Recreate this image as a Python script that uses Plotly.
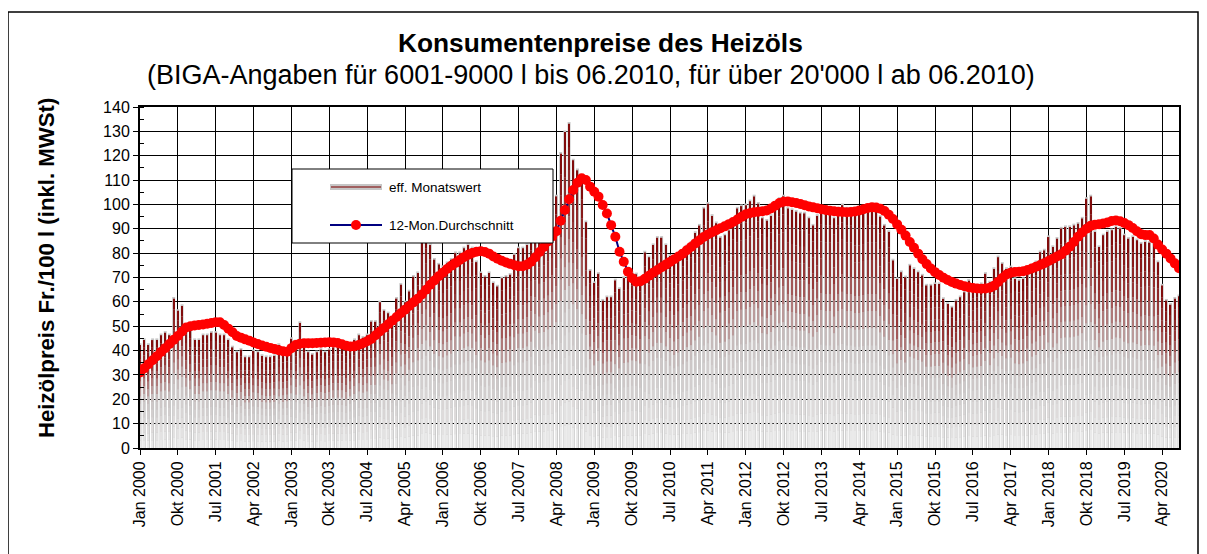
import plotly.graph_objects as go

# ---------------- data ----------------
start_year = 2000
month_names = ['Jan', 'Feb', 'Mär', 'Apr', 'Mai', 'Jun', 'Jul', 'Aug', 'Sep', 'Okt', 'Nov', 'Dez']

# effective monthly price, Fr./100 l, Jan 2000 .. Aug 2020
monthly_price = [
    43, 45, 43, 45, 45, 47, 48, 47, 62, 57, 59, 51,                      # 2000
    49, 45, 45, 47, 47, 48, 48, 47, 47, 45, 42, 40,                      # 2001
    41, 38, 38, 40.5, 40, 38.5, 38, 38, 38.5, 43, 38.5, 39,              # 2002
    45.5, 44.5, 52, 43, 40, 39, 40, 41, 40, 41, 42, 42,                  # 2003
    42, 41, 43, 45, 47, 46, 47, 52.5, 52.5, 60.5, 57, 56,                # 2004
    53, 62, 67.7, 60.5, 65, 71, 72.5, 86, 89, 84, 78, 76,                # 2005
    75, 76.6, 78, 80.7, 80.7, 82.7, 84, 82.7, 77, 72.5, 71, 72.5,        # 2006
    68.4, 67, 70.4, 71, 71.8, 80, 82.7, 82.7, 84, 88, 97, 95,            # 2007
    96, 98, 100, 104, 121.5, 130.4, 133.8, 118.8, 114.7, 110.5, 93.4, 73.5,  # 2008
    68.4, 72.2, 61.2, 62.6, 62.6, 69.5, 66, 70.5, 71, 72.5, 72, 70,      # 2009
    81, 79, 84, 87, 87, 84, 79.5, 77, 79, 81, 83.5, 85,                  # 2010
    89, 92, 99, 101, 96, 93, 87, 88, 90, 93, 99, 100,                   # 2011
    100.4, 102, 104, 101, 95, 94, 96, 99, 103, 104, 99, 98.4,            # 2012
    97.7, 97, 97, 95, 92, 96, 99.7, 99, 99, 95, 99, 100.4,               # 2013
    99, 99, 97.7, 97.7, 98.4, 99, 99, 99, 95.6, 92, 89.4, 77.7,          # 2014
    70.1, 72.9, 70.8, 75.6, 74.2, 72.9, 71.5, 67.4, 67.4, 68, 68, 61.9,  # 2015
    59.8, 58.4, 61.2, 62.6, 64.6, 69.4, 66.7, 67.4, 68, 72.2, 68.7, 74.2,  # 2016
    79, 76.3, 74.2, 74.9, 70.1, 69.4, 70.1, 72, 75.6, 77, 81.1, 81.8,    # 2017
    87.3, 83.2, 86.6, 90.8, 91.4, 91.4, 92.1, 92.8, 94.9, 103, 104, 89.4,  # 2018
    83.2, 88, 89.4, 90.1, 91.4, 90.8, 88, 86.6, 87.3, 86, 84.6, 85.3,    # 2019
    85, 84.6, 77, 67.4, 61.2, 59.5, 62, 63,                              # 2020
]

# 12-month running average as drawn in the reference
avg_12m = [
    31, 32.7, 34.4, 36, 37.7, 39.4, 41, 42.7, 44.4, 46, 47.8, 49.5,
    50, 50.3, 50.5, 50.7, 51, 51.3, 51.6, 51.6, 50.5, 49, 47.5, 46,
    45.3, 44.6, 44, 43.3, 42.7, 42.1, 41.6, 41.1, 40.6, 40.1, 39.7, 39.5,
    41, 42.3, 42.8, 43, 43, 43, 43.1, 43.2, 43.3, 43.4, 43.3, 43.1,
    42.6, 42, 41.7, 41.8, 42.3, 43, 43.8, 44.8, 46.3, 47.8, 49.3, 50.8,
    52.3, 53.8, 55.3, 56.8, 58.3, 59.8, 61.3, 63, 65, 67, 68.8, 70.5,
    72, 73.5, 74.8, 76, 77.2, 78.3, 79.3, 80.1, 80.6, 80.8, 80.5, 79.8,
    78.6, 77.7, 76.9, 76.2, 75.6, 75, 74.6, 74.6, 75.3, 76.5, 78.3, 80.5,
    82.5, 84.8, 86.8, 89, 93.3, 97.7, 102.1, 105.9, 108.9, 110.7, 110, 107.3,
    105.2, 103.2, 99.8, 96.3, 91.5, 86.7, 80.6, 76.5, 72.4, 69.7, 68.3, 68.5,
    69.5, 70.7, 72, 73.1, 74.2, 75.3, 76.4, 77.5, 78.6, 79.8, 81.2, 82.5,
    84, 85.3, 86.6, 87.7, 88.6, 89.4, 90.2, 91, 91.9, 92.8, 93.8, 94.9,
    96, 96.4, 96.8, 97, 97.2, 97.5, 98.3, 99.5, 100.6, 101.1, 101.2, 100.9,
    100.6, 100.2, 99.7, 99.2, 98.8, 98.4, 98, 97.7, 97.4, 97.2, 97, 96.9,
    96.8, 96.9, 97.1, 97.5, 98, 98.5, 98.8, 98.7, 98.2, 97.3, 95.8, 94,
    91.8, 89.6, 87.2, 84.6, 82.2, 79.8, 77.5, 75.5, 73.7, 72.2, 71, 69.9,
    69, 68.2, 67.5, 66.9, 66.4, 66, 65.7, 65.5, 65.4, 65.5, 65.8, 66.6,
    68.2, 69.8, 71.2, 72, 72.3, 72.4, 72.6, 73.1, 73.7, 74.4, 75.1, 75.9,
    76.8, 77.7, 78.6, 79.5, 81, 82.6, 84.6, 86.7, 88.5, 90, 91.2, 91.7,
    91.9, 92.2, 92.6, 93.2, 93.4, 93.1, 92.4, 91.5, 90.3, 89, 87.8, 87.4,
    87.4, 86, 83.5, 81.5, 79.8, 77.8, 75.8, 73.8,
]

series_names = ['eff. Monatswert', '12-Mon.Durchschnitt']
title_text = 'Konsumentenpreise des Heizöls'
subtitle_text = "(BIGA-Angaben für 6001-9000 l bis 06.2010, für über 20'000 l ab 06.2010)"
y_title = 'Heizölpreis Fr./100 l (inkl. MWSt)'

# ---------------- derived ----------------
n = len(monthly_price)
x = list(range(n))
labels = [f"{month_names[i % 12]} {start_year + i // 12}" for i in range(n)]
tick_step = 9
tickvals = x[::tick_step]
ticktext = labels[::tick_step]

# page offset of the figure (default body margin) and plot geometry in screen pixels
OFF = 8
W, H = 1207 - OFF, 554 - OFF
SX0, SX1, SY0, SY1 = 140, 1179, 107, 448          # plot area on screen
L, R, T, B = SX0 - OFF, W - (SX1 - OFF), SY0 - OFF, H - (SY1 - OFF)
PW, PH = SX1 - SX0, SY1 - SY0


def px(xs):
    return (xs - SX0) / PW


def py(ys):
    return (SY1 - ys) / PH


FONT = 'Arial, "Liberation Sans", sans-serif'

fig = go.Figure()

# gray outline / body of the bars
fig.add_trace(go.Bar(x=x, y=monthly_price, width=0.7,
                     marker=dict(color='#c6c6c6', line=dict(width=0)),
                     opacity=1, hoverinfo='skip', showlegend=False))

# gradient core (dark red on top, light gray at the bottom) built from stacked segments
stops = [(0.0, (236, 236, 236)), (0.45, (200, 194, 194)), (0.75, (150, 55, 55)), (1.0, (125, 5, 5))]


def grad(f):
    for (a, ca), (b, cb) in zip(stops[:-1], stops[1:]):
        if a <= f <= b:
            t = (f - a) / (b - a)
            c = [round(ca[j] + (cb[j] - ca[j]) * t) for j in range(3)]
            return f'rgb({c[0]},{c[1]},{c[2]})'
    return 'rgb(125,5,5)'


N = 14
cap = 0.7
for i in range(N):
    seg = [(v - cap) / N for v in monthly_price]
    base = [s * i for s in seg]
    fig.add_trace(go.Bar(x=x, y=seg, base=base, width=0.3,
                         marker=dict(color=grad((i + 0.5) / N), line=dict(width=0)),
                         opacity=1, hoverinfo='skip', showlegend=False))

# 12-month average
fig.add_trace(go.Scatter(x=x, y=avg_12m, mode='lines+markers', name=series_names[1],
                         line=dict(color='#000080', width=2),
                         marker=dict(color='#ff0000', size=10, line=dict(width=0)),
                         showlegend=False))

shapes = [
    # outer chart frame
    dict(type='rect', xref='paper', yref='paper', x0=px(8), x1=px(1198), y0=py(600), y1=py(12),
         line=dict(color='black', width=1.5), fillcolor='rgba(0,0,0,0)', layer='above'),
    # legend box
    dict(type='rect', xref='paper', yref='paper', x0=px(292), x1=px(553), y0=py(243), y1=py(169),
         line=dict(color='black', width=1), fillcolor='white', layer='above'),
    # legend symbol 1
    dict(type='line', xref='paper', yref='paper', x0=px(330), x1=px(382), y0=py(187), y1=py(187),
         line=dict(color='#c6c6c6', width=6), layer='above'),
    dict(type='line', xref='paper', yref='paper', x0=px(331), x1=px(381), y0=py(187), y1=py(187),
         line=dict(color='#a06060', width=2), layer='above'),
    # legend symbol 2
    dict(type='line', xref='paper', yref='paper', x0=px(330), x1=px(382), y0=py(225), y1=py(225),
         line=dict(color='#000080', width=2), layer='above'),
    dict(type='circle', xref='paper', yref='paper', x0=px(351), x1=px(361), y0=py(230), y1=py(220),
         line=dict(width=0), fillcolor='#ff0000', layer='above'),
]

annotations = [
    dict(text=f'<b>{title_text}</b>', xref='paper', yref='paper', x=px(600), y=py(43),
         xanchor='center', yanchor='middle', showarrow=False,
         font=dict(family=FONT, size=26.3, color='black')),
    dict(text=subtitle_text, xref='paper', yref='paper', x=px(591), y=py(75),
         xanchor='center', yanchor='middle', showarrow=False,
         font=dict(family=FONT, size=27, color='black')),
    dict(text=f'<b>{y_title}</b>', xref='paper', yref='paper', x=px(46), y=py(268),
         xanchor='center', yanchor='middle', showarrow=False, textangle=-90,
         font=dict(family=FONT, size=22.2, color='black')),
    dict(text=series_names[0], xref='paper', yref='paper', x=px(387), y=py(187),
         xanchor='left', yanchor='middle', showarrow=False,
         font=dict(family=FONT, size=13.5, color='black')),
    dict(text=series_names[1], xref='paper', yref='paper', x=px(387), y=py(225),
         xanchor='left', yanchor='middle', showarrow=False,
         font=dict(family=FONT, size=13.5, color='black')),
]

fig.update_layout(
    width=W, height=H,
    margin=dict(l=L, r=R, t=T, b=B, autoexpand=False),
    paper_bgcolor='white', plot_bgcolor='white',
    barmode='overlay',
    showlegend=False,
    font=dict(family=FONT, color='black'),
    shapes=shapes,
    annotations=annotations,
    xaxis=dict(range=[0, n - 1], tickmode='array', tickvals=tickvals, ticktext=ticktext,
               tickangle=-90, tickfont=dict(family=FONT, size=16, color='black'),
               showgrid=True, gridcolor='black', gridwidth=1,
               showline=True, linecolor='black', linewidth=2, mirror=True,
               ticks='outside', ticklen=5, tickcolor='black', zeroline=False),
    yaxis=dict(range=[0, 140], tick0=0, dtick=10,
               tickfont=dict(family=FONT, size=16, color='black'),
               showgrid=True, gridcolor='black', gridwidth=1,
               showline=True, linecolor='black', linewidth=2, mirror=True,
               ticks='outside', ticklen=5, tickcolor='black', zeroline=False,
               minor=dict(dtick=5, ticks='inside', ticklen=4, tickcolor='black', showgrid=False)),
)

fig.write_html('out.html')
